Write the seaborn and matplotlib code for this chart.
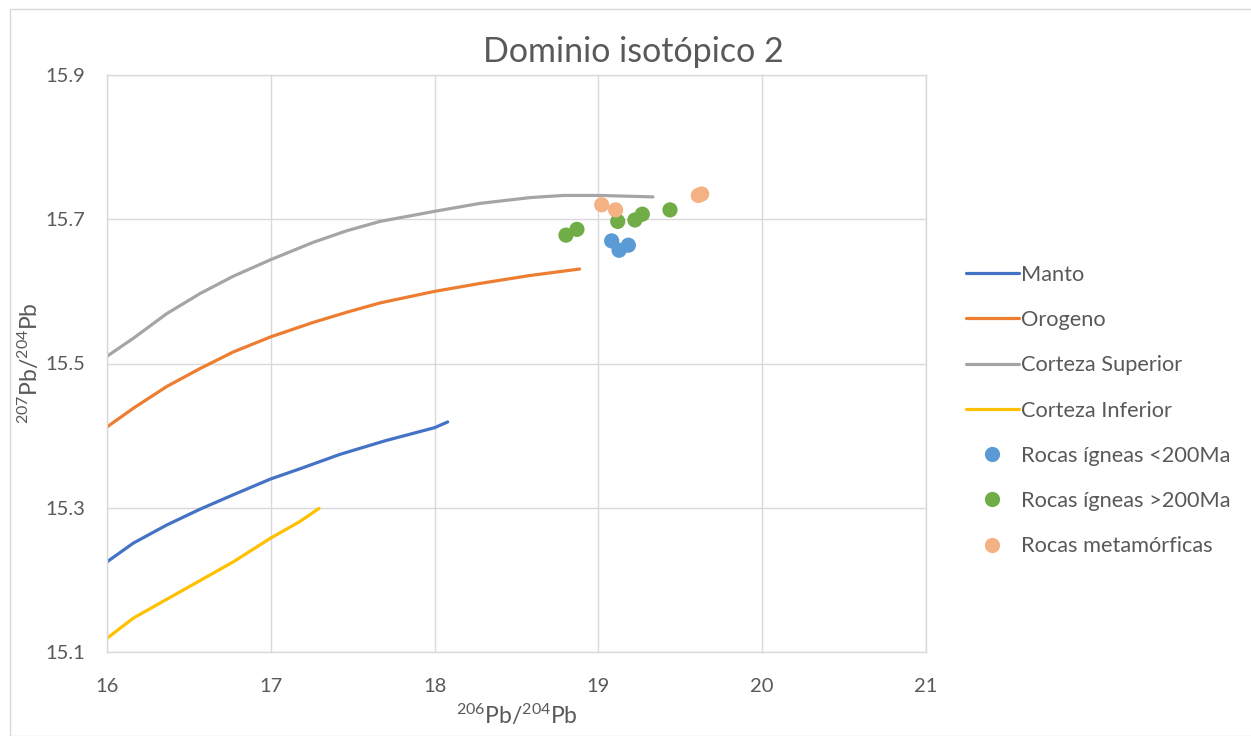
import pandas as pd
import matplotlib.pyplot as plt
import seaborn as sns
from matplotlib.patches import Rectangle

# Curvas de evolución
manto_x = [16.0, 16.161, 16.364, 16.568, 16.771, 17.0, 17.178, 17.422, 17.7, 18.0, 18.08]
manto_y = [15.225, 15.251, 15.276, 15.298, 15.318, 15.340, 15.354, 15.374, 15.393, 15.411, 15.419]

orogeno_x = [16.0, 16.161, 16.364, 16.568, 16.771, 17.0, 17.259, 17.463, 17.667,
             18.0, 18.277, 18.582, 18.885]
orogeno_y = [15.412, 15.438, 15.468, 15.493, 15.516, 15.537, 15.557, 15.571, 15.584,
             15.600, 15.611, 15.622, 15.631]

sup_x = [16.0, 16.161, 16.364, 16.568, 16.771, 17.0, 17.259, 17.463, 17.667,
         18.0, 18.277, 18.582, 18.786, 19.01, 19.333]
sup_y = [15.510, 15.535, 15.569, 15.597, 15.621, 15.644, 15.668, 15.684, 15.697,
         15.711, 15.722, 15.730, 15.733, 15.733, 15.731]

inf_x = [16.0, 16.161, 16.364, 16.568, 16.771, 17.0, 17.178, 17.294]
inf_y = [15.119, 15.147, 15.173, 15.199, 15.225, 15.258, 15.281, 15.299]

# Muestras
ign_jov_x = [19.081, 19.126, 19.183]
ign_jov_y = [15.670, 15.657, 15.664]

ign_ant_x = [18.802, 18.869, 19.118, 19.223, 19.268, 19.437]
ign_ant_y = [15.678, 15.686, 15.697, 15.699, 15.707, 15.713]

meta_x = [19.020, 19.105, 19.610, 19.630]
meta_y = [15.720, 15.713, 15.733, 15.735]

curvas = pd.concat([
    pd.DataFrame({'x': manto_x, 'y': manto_y, 'serie': 'Manto'}),
    pd.DataFrame({'x': orogeno_x, 'y': orogeno_y, 'serie': 'Orogeno'}),
    pd.DataFrame({'x': sup_x, 'y': sup_y, 'serie': 'Corteza Superior'}),
    pd.DataFrame({'x': inf_x, 'y': inf_y, 'serie': 'Corteza Inferior'}),
])
puntos = pd.concat([
    pd.DataFrame({'x': ign_jov_x, 'y': ign_jov_y, 'serie': 'Rocas ígneas <200Ma'}),
    pd.DataFrame({'x': ign_ant_x, 'y': ign_ant_y, 'serie': 'Rocas ígneas >200Ma'}),
    pd.DataFrame({'x': meta_x, 'y': meta_y, 'serie': 'Rocas metamórficas'}),
])

col_lineas = {'Manto': '#4472C4', 'Orogeno': '#ED7D31',
              'Corteza Superior': '#A5A5A5', 'Corteza Inferior': '#FFC000'}
col_puntos = {'Rocas ígneas <200Ma': '#5B9BD5', 'Rocas ígneas >200Ma': '#70AD47',
              'Rocas metamórficas': '#F4B183'}

sns.set_style('white')
plt.rcParams['font.family'] = ['Lato', 'DejaVu Sans']
plt.rcParams['mathtext.fontset'] = 'custom'
plt.rcParams['mathtext.rm'] = 'Lato'
plt.rcParams['mathtext.it'] = 'Lato'

fig = plt.figure(figsize=(12.51, 7.36), dpi=100)
ax = fig.add_axes([107 / 1251, 84 / 736, 819 / 1251, 577 / 736])
fig.patches.append(Rectangle((10 / 1251, 0), 1.2, 727 / 736, transform=fig.transFigure,
                             fill=False, edgecolor='#D9D9D9', linewidth=1))

sns.lineplot(data=curvas, x='x', y='y', hue='serie', palette=col_lineas, sort=False,
             estimator=None, linewidth=2.3, ax=ax)
sns.scatterplot(data=puntos, x='x', y='y', hue='serie', palette=col_puntos, s=120,
                edgecolor='none', ax=ax, zorder=3)

ax.set_xlim(16, 21)
ax.set_ylim(15.1, 15.9)
ax.set_xticks([16, 17, 18, 19, 20, 21])
ax.set_yticks([15.1, 15.3, 15.5, 15.7, 15.9])
ax.set_yticklabels(['15.1', '15.3', '15.5', '15.7', '15.9'])
ax.grid(True, color='#D9D9D9', linewidth=1)
for s in ax.spines.values():
    s.set_color('#D9D9D9')
    s.set_linewidth(1)
ax.tick_params(axis='x', length=0, pad=19, labelsize=14.5, labelcolor='#595959')
ax.tick_params(axis='y', length=0, pad=16, labelsize=14.5, labelcolor='#595959')

ax.set_xlabel('$^{206}$Pb/$^{204}$Pb', fontsize=16.5, color='#595959')
ax.set_ylabel('$^{207}$Pb/$^{204}$Pb', fontsize=16.5, color='#595959')
ax.xaxis.set_label_coords(0.5, -(703 - 652) / 577)
ax.yaxis.set_label_coords(-(107 - 42) / 819, 0.5)
fig.text(633 / 1251, 1 - 52 / 736, 'Dominio isotópico 2', ha='center', va='center',
         fontsize=24.5, color='#595959')

handles, labels = ax.get_legend_handles_labels()
ax.get_legend().remove()
fig.legend(handles, labels, loc='upper left', bbox_to_anchor=(946 / 1251, 1 - 245 / 736),
           frameon=False, fontsize=15.7, labelcolor='#595959', handlelength=2.43,
           handletextpad=0.12, labelspacing=1.16, markerscale=1.0)

plt.savefig('out.png', dpi=100)
